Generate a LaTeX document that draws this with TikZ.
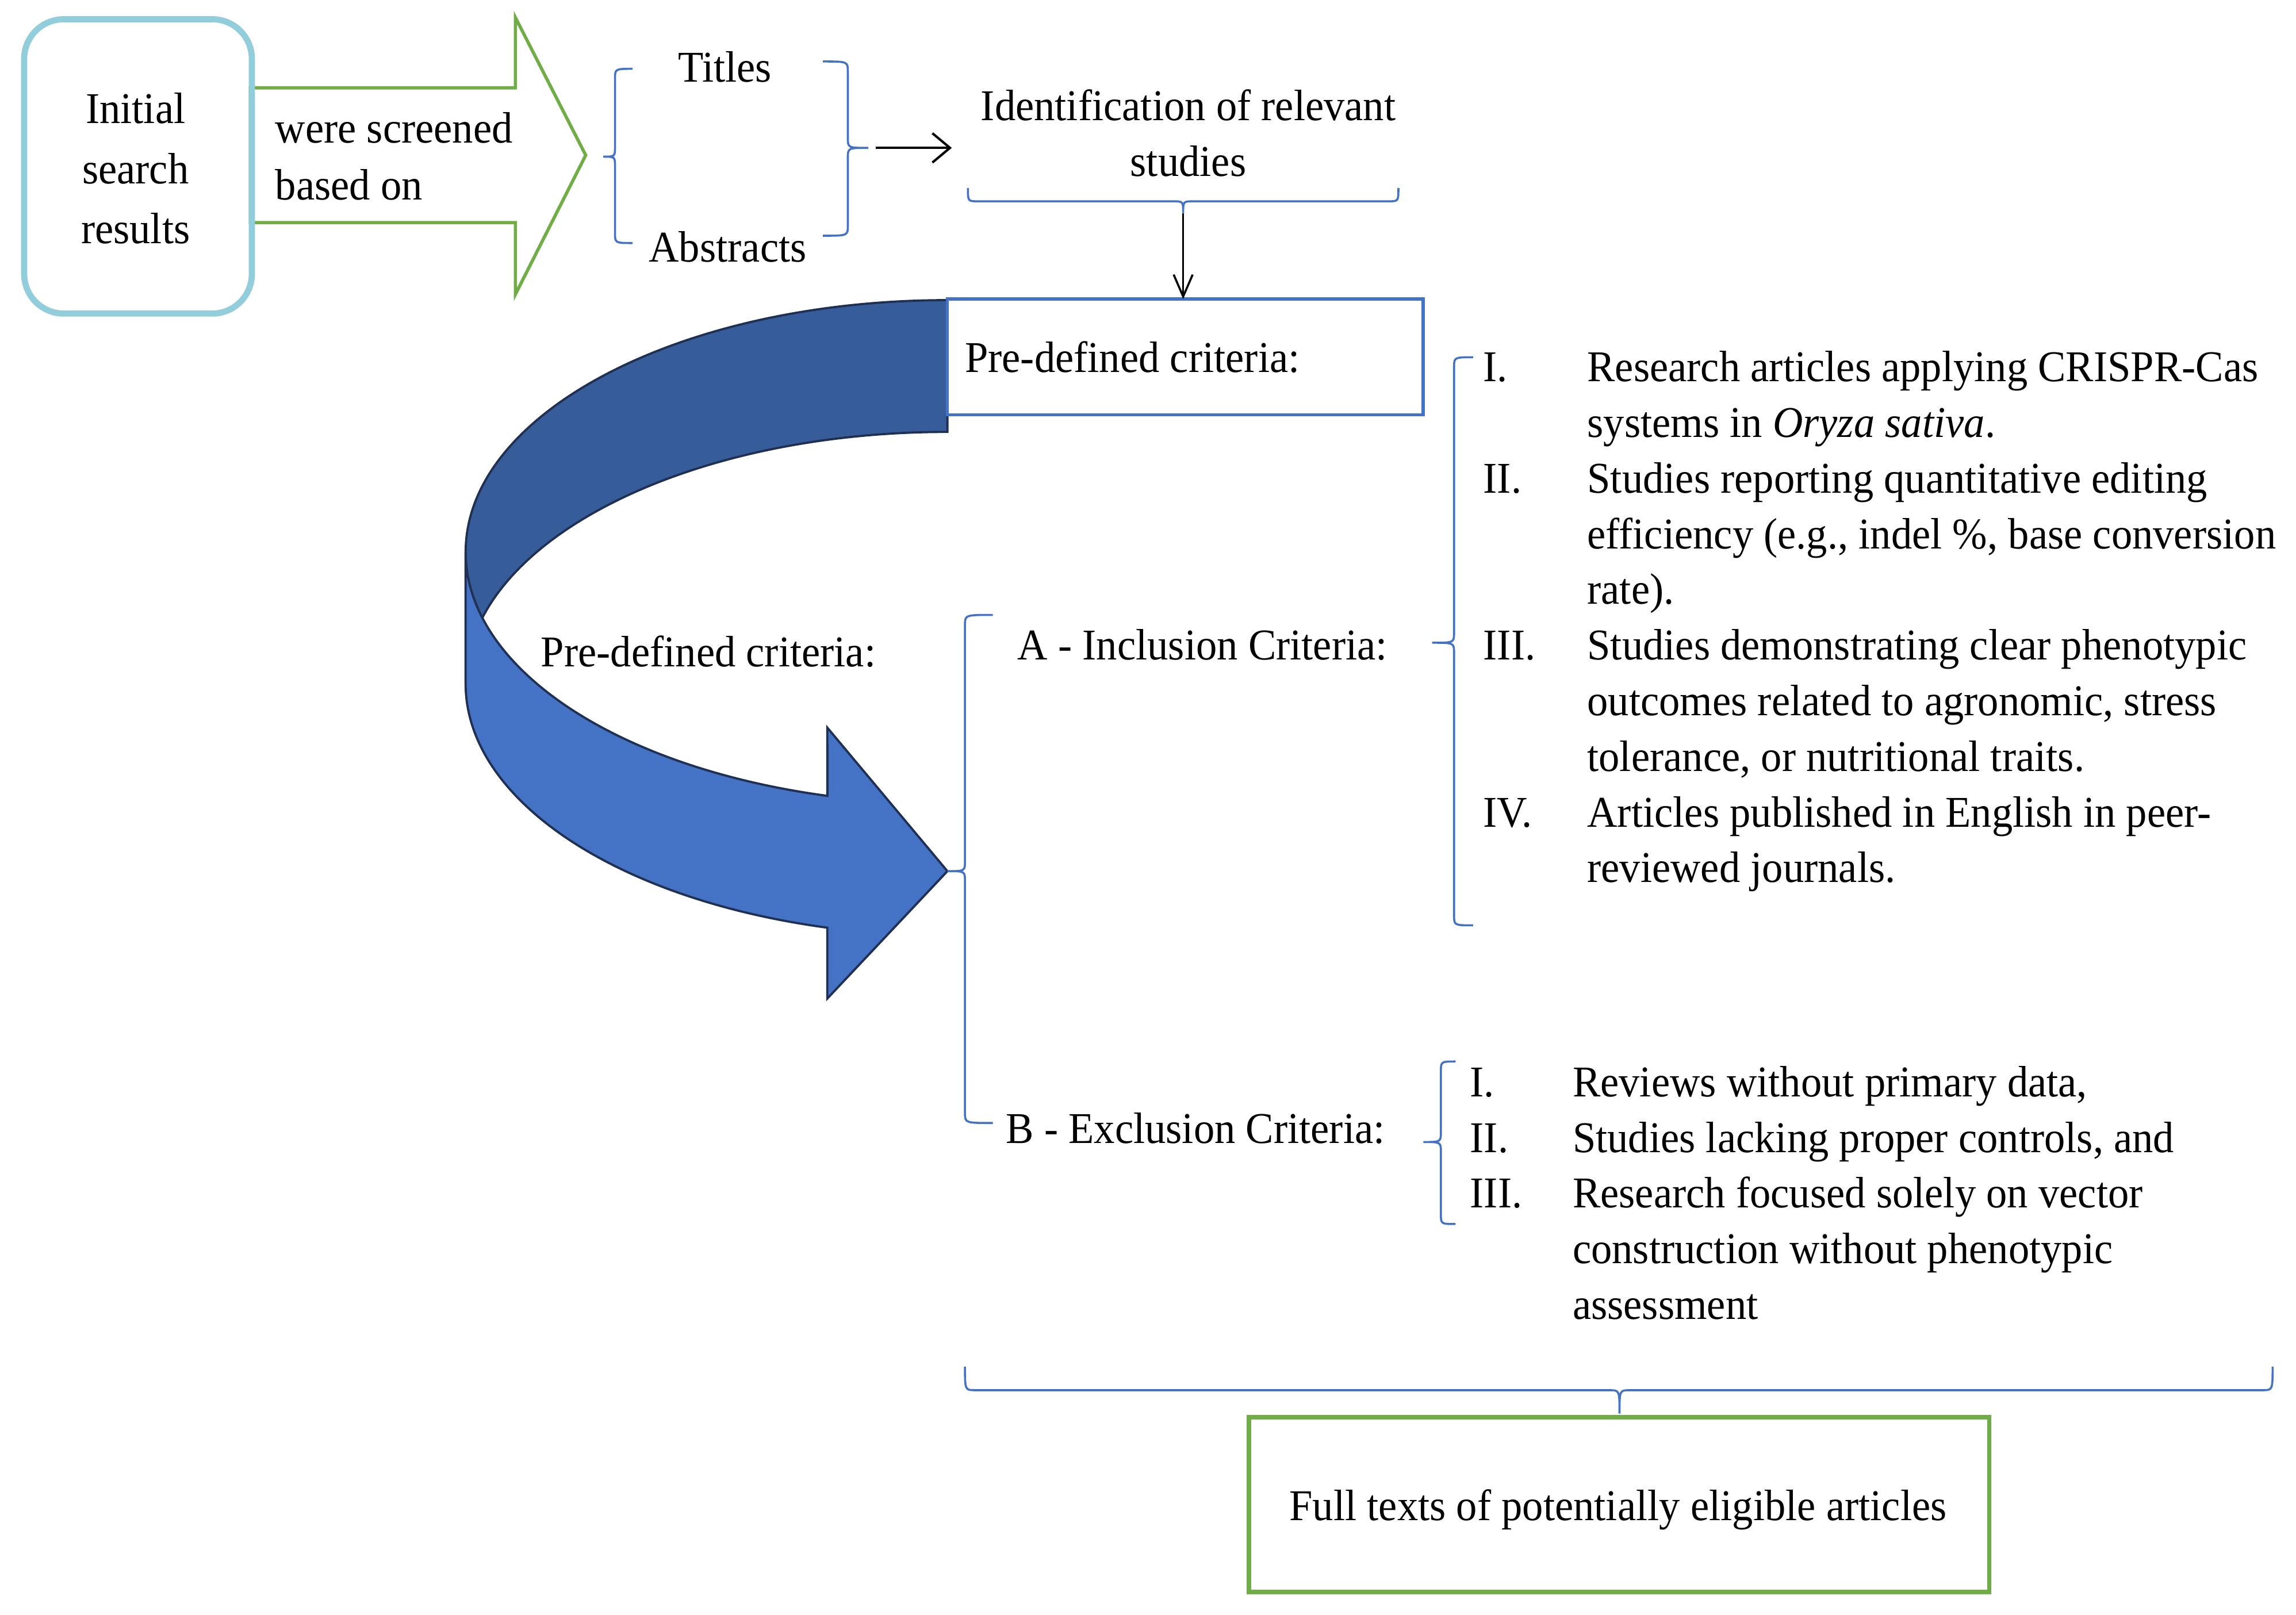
\documentclass[tikz,border=0pt]{standalone}
\usepackage{fontspec}
\setmainfont{Liberation Serif}[FakeStretch=0.95]
\usetikzlibrary{arrows.meta}
\definecolor{accblue}{RGB}{68,114,196}
\definecolor{bandDark}{RGB}{54,93,154}
\definecolor{bandLight}{RGB}{68,114,196}
\definecolor{bandEdge}{RGB}{32,48,82}
\definecolor{aquaEdge}{RGB}{146,205,220}
\definecolor{leafGreen}{RGB}{112,173,71}
\newcommand\Lines[1]{\begin{tabular}[t]{@{}l@{}}#1\end{tabular}}
\newcommand\CLines[1]{\begin{tabular}[t]{@{}c@{}}#1\end{tabular}}
% left-opening brace: x0, ytop, ymid, ybot, hook, depth
\newcommand\BrLeft[6]{\draw[bracestyle] ({#1+#5},#2) .. controls (#1,#2) .. (#1,{#2+7}) -- (#1,{#3-7}) .. controls (#1,#3) .. ({#1-#6},#3) .. controls (#1,#3) .. (#1,{#3+7}) -- (#1,{#4-7}) .. controls (#1,#4) .. ({#1+#5},#4);}
\newcommand\BrRight[6]{\draw[bracestyle] ({#1-#5},#2) .. controls (#1,#2) .. (#1,{#2+7}) -- (#1,{#3-7}) .. controls (#1,#3) .. ({#1+#6},#3) .. controls (#1,#3) .. (#1,{#3+7}) -- (#1,{#4-7}) .. controls (#1,#4) .. ({#1-#5},#4);}
% under brace: y0, xleft, xmid, xright, hook, depth
\newcommand\BrUnder[6]{\draw[bracestyle] (#2,{#1-#5}) .. controls (#2,#1) .. ({#2+7},#1) -- ({#3-7},#1) .. controls (#3,#1) .. (#3,{#1+#6}) .. controls (#3,#1) .. ({#3+7},#1) -- ({#4-7},#1) .. controls (#4,#1) .. (#4,{#1-#5});}
\begin{document}
\begin{tikzpicture}[x=1pt,y=-1pt,
  every node/.style={inner sep=0pt, outer sep=0pt, font=\fontsize{30}{38}\selectfont},
  bracestyle/.style={draw=accblue, line width=1.4pt},
  blackArrow/.style={draw=black, line width=1.6pt, -{Straight Barb[length=12pt,width=20pt,line width=1.6pt]}},
  downArrow/.style={draw=black, line width=1.4pt, -{Straight Barb[length=15pt,width=13pt,line width=1.4pt]}},
  txt/.style={anchor=base west},
  ctxt/.style={anchor=base}]
\fill[white] (0,0) rectangle (1568,1102.7);
\useasboundingbox (0,0) rectangle (1568,1102.7);

% green block arrow
\draw[leafGreen, line width=2.2pt, line join=miter] (171,60) -- (352,60) -- (352,12) -- (400,106) -- (352,201) -- (352,152) -- (171,152) -- cycle;
% initial box
\node[draw=aquaEdge, line width=4.2pt, rounded corners=27pt, minimum width=155.5, minimum height=201] (initBox) at (94.25,113.65) {};
\node[ctxt, font=\fontsize{30}{41}\selectfont] (initTxt) at (92.6,84.3) {\CLines{Initial\\search\\results}};
\node[txt, font=\fontsize{30}{39}\selectfont] (screenTxt) at (188,97.6) {\Lines{were screened\\based on}};

% titles / abstracts
\node[ctxt] (titles) at (495,56) {Titles};
\node[ctxt] (abstracts) at (497,179) {Abstracts};
\BrLeft{420}{47}{107}{166}{12}{8}
\BrRight{579}{42}{101}{161}{17}{14}
\coordinate (taCusp) at (593,101);
\coordinate (identIn) at (650,101);
\draw[blackArrow] ([xshift=5pt]taCusp) -- (identIn);

\node[ctxt] (identTxt) at (811.5,82.2) {\CLines{Identification of relevant\\studies}};
\BrUnder{137.5}{661}{808}{955}{9}{8}
\coordinate (idCusp) at (808,145.5);

% curved arrow
\filldraw[fill=bandDark, draw=bandEdge, line width=1.5pt]
  (647,205) arc[start angle=270, end angle=180, x radius=329, y radius=172]
  -- (318,467) arc[start angle=180, end angle=270, x radius=329, y radius=172] -- cycle;
\filldraw[fill=bandLight, draw=bandEdge, line width=1.5pt, line join=miter]
  (318,377) arc[start angle=180, end angle=104.43, x radius=329, y radius=172]
  -- (565,497) -- (647,595) -- (565,682) -- (565,633.6)
  arc[start angle=104.43, end angle=180, x radius=329, y radius=172] -- cycle;

% pre-defined criteria box
\node[draw=accblue, line width=2.2pt, fill=white, minimum width=325, minimum height=79] (pdcBox) at (809.5,243.8) {};
\node[txt] (pdcTxt) at (659,254.3) {Pre-defined criteria:};
\draw[downArrow] (idCusp) -- (idCusp |- pdcBox.north);

\node[txt] (pdcLeft) at (369.5,455.5) {Pre-defined criteria:};

% A / B brace
\BrLeft{659}{420}{595}{767}{19}{12}
\node[txt] (inclTxt) at (695,450.6) {A - Inclusion Criteria:};
\node[txt] (exclTxt) at (687,781) {B - Exclusion Criteria:};

% inclusion list
\BrLeft{993}{244}{439}{632}{13}{15}
\node[txt] (inNumA) at (1013,260.7) {I.};
\node[txt] (inItemA) at (1084,260.7) {\Lines{Research articles applying CRISPR-Cas\\systems in \textit{Oryza sativa}.}};
\node[txt] (inNumB) at (1013,336.7) {II.};
\node[txt] (inItemB) at (1084,336.7) {\Lines{Studies reporting quantitative editing\\efficiency (e.g., indel \%, base conversion\\rate).}};
\node[txt] (inNumC) at (1013,450.7) {III.};
\node[txt] (inItemC) at (1084,450.7) {\Lines{Studies demonstrating clear phenotypic\\outcomes related to agronomic, stress\\tolerance, or nutritional traits.}};
\node[txt] (inNumD) at (1013,564.7) {IV.};
\node[txt] (inItemD) at (1084,564.7) {\Lines{Articles published in English in peer-\\reviewed journals.}};

% exclusion list
\BrLeft{984}{725}{780}{836}{10}{12}
\node[txt] (exNumA) at (1004,749) {I.};
\node[txt] (exItemA) at (1074,749) {Reviews without primary data,};
\node[txt] (exNumB) at (1004,787) {II.};
\node[txt] (exItemB) at (1074,787) {Studies lacking proper controls, and};
\node[txt] (exNumC) at (1004,825) {III.};
\node[txt] (exItemC) at (1074,825) {\Lines{Research focused solely on vector\\construction without phenotypic\\assessment}};

% bottom brace and final box
\BrUnder{949.5}{659}{1106}{1552}{16}{16}
\node[draw=leafGreen, line width=3pt, minimum width=505.5, minimum height=119.3] (fullBox) at (1105.75,1027.65) {};
\node[ctxt] (fullTxt) at (1105,1038.4) {Full texts of potentially eligible articles};
\end{tikzpicture}
\end{document}
